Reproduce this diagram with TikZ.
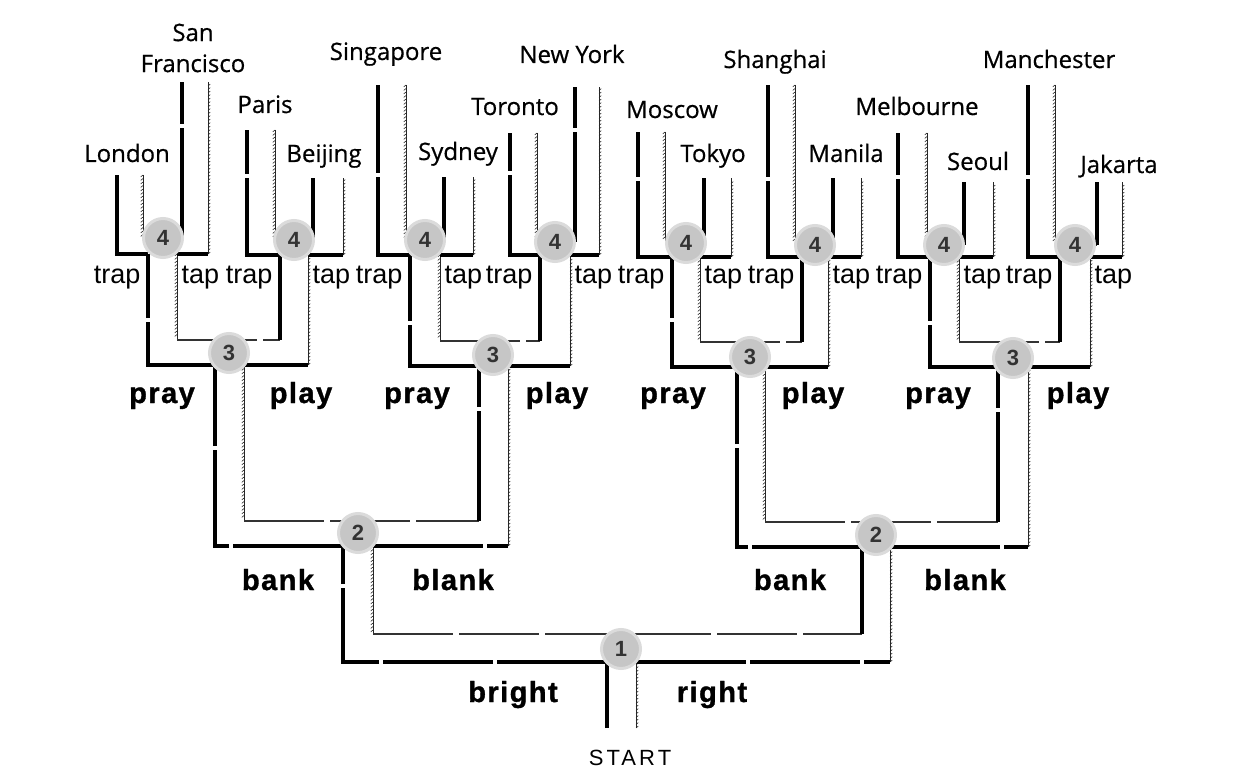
\documentclass[tikz,border=0pt]{standalone}
\usepackage{fontspec}
\setmainfont{Liberation Sans}
\newfontfamily\cityfont[FakeBold=0.6]{Open Sans}
\usetikzlibrary{decorations.pathreplacing}

\tikzset{
	wall/.style={line width=3.4pt,dash pattern=on 110pt off 4pt},
	kerb/.style={line width=.8pt,black!85,postaction={draw,line width=.6pt,decorate,decoration={border,segment length=3.5pt,amplitude=3pt,angle=-50}}},
	lane/.style={line width=1.3pt,black!80,dash pattern=on 80pt off 6pt},
	jct/.style={circle,fill=gray!45,draw=gray!28,line width=3pt,minimum size=39pt,inner sep=0pt,text=black!80,font=\fontsize{22}{22}\selectfont\bfseries},
	city/.style={font=\cityfont\fontsize{24}{31}\selectfont,align=center},
	turn/.style={font=\fontsize{27}{27}\selectfont},
	word/.style={font=\fontsize{29}{29}\selectfont\bfseries\addfontfeature{LetterSpace=5,FakeBold=1.2}},
}

\begin{document}
\begin{tikzpicture}[x=1pt,y=-1pt]
	\useasboundingbox (0,0) rectangle (1243,781);
	% stem from the start
	\draw[wall] (607,728) -- (607,662);
	\draw[kerb] (636,728) -- (636,662);
	% one fork per junction: stem walls / bottom / top / left branch / right branch / branch ends
	\foreach \sl/\sr/\yb/\yt/\al/\ar/\bl/\br/\tl/\tr in {
		607/636/662/634/343/373/862/890/546/547,
		343/373/546/521/215/244/479/508/365/366,
		862/890/547/522/737/765/998/1028/367/367,
		215/244/365/340/148/177/280/308/254/255,
		479/508/366/341/410/440/540/570/255/255,
		737/765/367/342/672/700/802/828/257/257,
		998/1028/367/342/930/959/1060/1090/257/257,
		148/177/254/238/117/143/182/208/175/82,
		280/308/255/240/247/275/313/343/130/178,
		410/440/255/240/378/406/444/473/85/177,
		540/570/255/242/510/537/575/599/133/87,
		672/700/257/243/638/665/704/731/132/178,
		802/828/257/245/768/795/833/861/85/178,
		930/959/257/245/898/927/964/993/133/182,
		1060/1090/257/245/1028/1055/1097/1122/85/182}{
		\draw[wall] (\sl,\yb) -- (\al,\yb) -- (\al,\tl);
		\draw[wall] (\sr,\yb) -- (\br,\yb);
		\draw[kerb] (\br,\yb) -- (\br,\tr);
		\draw[kerb] (\ar,\tl) -- (\ar,\yt);
		\draw[lane] (\ar,\yt) -- (\bl,\yt);
		\draw[wall] (\bl,\yt) -- (\bl,\tr);
	}
	% junctions
	\foreach \x/\y/\n/\k in {621/649/1/a,358/533/2/a,876/535/2/b,
		229/353/3/a,493/355/3/b,750/357/3/c,1013/358/3/d,
		163/238/4/a,294/240/4/b,425/240/4/c,555/242/4/d,686/243/4/e,815/245/4/f,944/245/4/g,1075/245/4/h}
		\node[jct] (j\n\k) at (\x,\y) {\n};
	% trap / tap
	\foreach \sl/\sr/\k in {148/177/a,280/308/b,410/440/c,540/570/d,672/700/e,802/828/f,930/959/g,1060/1090/h}{
		\node[turn,anchor=base east] (trap\k) at (\sl-4,283) {trap};
		\node[turn,anchor=base west] (tap\k) at (\sr+1,283) {tap};
	}
	% pray / play
	\foreach \xa/\xb/\k in {162/301/a,417/557/b,673/813/c,938/1078/d}{
		\node[word,anchor=base] (pray\k) at (\xa,403) {pray};
		\node[word,anchor=base] (play\k) at (\xb,403) {play};
	}
	\node[word,anchor=base] (banka) at (278,590) {bank};
	\node[word,anchor=base] (blanka) at (453,590) {blank};
	\node[word,anchor=base] (bankb) at (790,590) {bank};
	\node[word,anchor=base] (blankb) at (965,590) {blank};
	\node[word,anchor=base] (bright) at (513,702) {bright};
	\node[word,anchor=base] (right) at (712,702) {right};
	\node[font=\fontsize{22}{22}\selectfont\addfontfeature{LetterSpace=14},anchor=base] (start) at (630,765) {START};
	% cities
	\node[city,anchor=base] (london) at (127,162) {London};
	\node[city] (sanfrancisco) at (193,48) {San\\Francisco};
	\node[city,anchor=base] (paris) at (265,113) {Paris};
	\node[city,anchor=base] (beijing) at (324,162) {Beijing};
	\node[city,anchor=base] (singapore) at (386,60) {Singapore};
	\node[city,anchor=base] (sydney) at (458,160) {Sydney};
	\node[city,anchor=base] (toronto) at (515,115) {Toronto};
	\node[city,anchor=base] (newyork) at (572,63) {New York};
	\node[city,anchor=base] (moscow) at (672,118) {Moscow};
	\node[city,anchor=base] (tokyo) at (713,162) {Tokyo};
	\node[city,anchor=base] (shanghai) at (775,68) {Shanghai};
	\node[city,anchor=base] (manila) at (846,162) {Manila};
	\node[city,anchor=base] (melbourne) at (917,115) {Melbourne};
	\node[city,anchor=base] (seoul) at (978,170) {Seoul};
	\node[city,anchor=base] (manchester) at (1049,68) {Manchester};
	\node[city,anchor=base] (jakarta) at (1119,173) {Jakarta};
\end{tikzpicture}
\end{document}
